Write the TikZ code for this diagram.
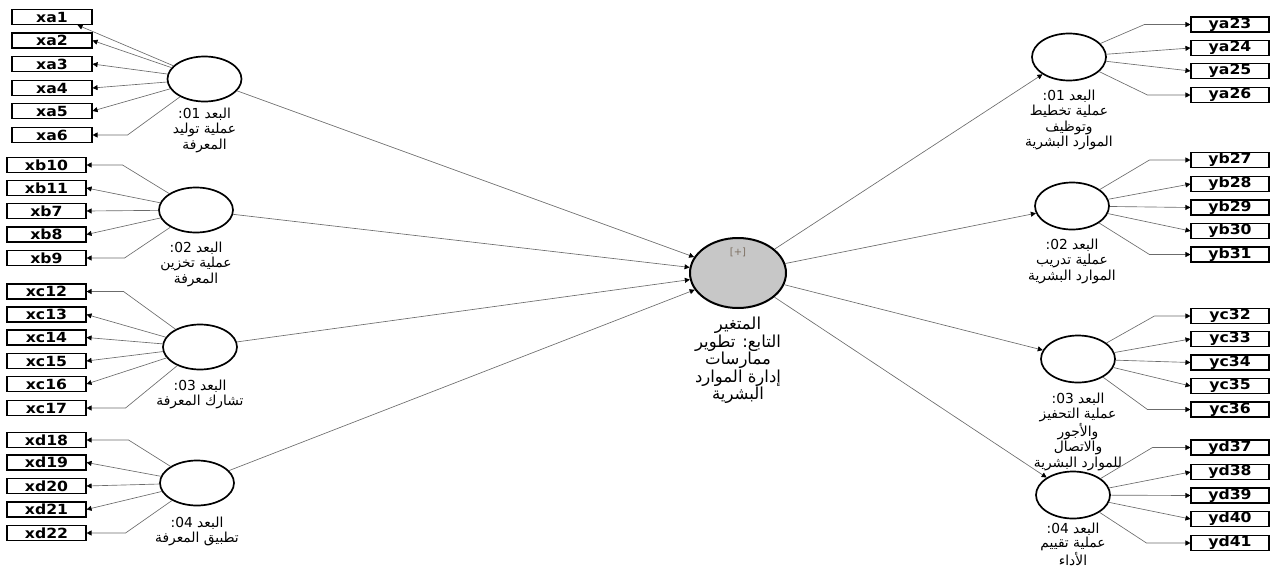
\documentclass[tikz,border=0pt]{standalone}
\usepackage{fontspec}
\setmainfont{DejaVu Sans}
\newfontfamily\arabicfont[Script=Arabic]{DejaVu Sans}
\newfontfamily\boxfont[FakeStretch=1.12]{DejaVu Sans}
\TeXXeTstate=1
\usetikzlibrary{arrows.meta, positioning, shapes.geometric}
\definecolor{plusgray}{RGB}{125,112,98}
\newcommand{\rl}[1]{\beginR #1\endR}
\tikzstyle{link} = [draw=black!58, line width=0.65pt, -{Triangle[length=5pt,width=5pt,color=black]}]
\tikzstyle{ind} = [draw, line width=1.1pt, minimum width=79pt, minimum height=15pt, inner sep=0pt, font=\boxfont\bfseries\fontsize{14}{14}\selectfont]
\tikzstyle{lv} = [ellipse, draw, line width=1.7pt, minimum width=74pt, minimum height=45pt, inner sep=0pt]
\tikzstyle{lbl} = [align=center, inner sep=0pt, font=\arabicfont\fontsize{13.8}{15.5}\selectfont]

\begin{document}
\begin{tikzpicture}[x=1pt, y=-1pt]
    \useasboundingbox (0,0) rectangle (1272,568);

    % indicators, left
    \foreach \n/\y in {xa1/17,xa2/40.5,xa3/64,xa4/88,xa5/111,xa6/135}
      \node[ind, minimum width=80pt] (\n) at (52,\y) {\n};
    \foreach \n/\y in {xb10/165,xb11/188,xb7/211,xb8/234.5,xb9/258}
      \node[ind] (\n) at (46.5,\y) {\n};
    \foreach \n/\y in {xc12/291.5,xc13/314.5,xc14/337.5,xc15/361,xc16/384,xc17/408}
      \node[ind] (\n) at (46.5,\y) {\n};
    \foreach \n/\y in {xd18/440,xd19/462.5,xd20/486,xd21/509.5,xd22/533}
      \node[ind] (\n) at (46.5,\y) {\n};

    % indicators, right
    \foreach \n/\y in {ya23/24.5,ya24/48,ya25/71,ya26/95}
      \node[ind, minimum width=78pt] (\n) at (1230,\y) {\n};
    \foreach \n/\y in {yb27/160,yb28/184,yb29/207.5,yb30/231,yb31/254.5}
      \node[ind, minimum width=78pt] (\n) at (1230,\y) {\n};
    \foreach \n/\y in {yc32/316,yc33/339,yc34/362.5,yc35/386,yc36/409.5}
      \node[ind, minimum width=78pt] (\n) at (1230,\y) {\n};
    \foreach \n/\y in {yd37/447.5,yd38/472,yd39/495.5,yd40/519,yd41/543}
      \node[ind, minimum width=78pt] (\n) at (1230,\y) {\n};

    % latent variables
    \node[lv] (ka) at (204.5,79) {};
    \node[lv] (kb) at (196,210) {};
    \node[lv] (kc) at (200,347) {};
    \node[lv] (kd) at (197,483) {};
    \node[lv, minimum height=47pt] (ra) at (1069,57) {};
    \node[lv, minimum height=47pt] (rb) at (1072,206) {};
    \node[lv, minimum height=47pt] (rc) at (1078,359) {};
    \node[lv, minimum height=47pt] (rd) at (1073,495) {};
    \node[lv, line width=2pt, fill=black!22, minimum width=96pt, minimum height=70pt] (dv) at (738,273) {};
    \node[font=\fontsize{10}{11}\selectfont, text=plusgray] (plus) at (738,252) {[+]};

    \node[lbl, below=5pt of ka] (la) {\rl{البعد 01:}\\\rl{عملية توليد}\\\rl{المعرفة}};
    \node[lbl, below=8pt of kb] (lb) {\rl{البعد 02:}\\\rl{عملية تخزين}\\\rl{المعرفة}};
    \node[lbl, below=9pt of kc] (lc) {\rl{البعد 03:}\\\rl{تشارك المعرفة}};
    \node[lbl, below=10pt of kd] (ld) {\rl{البعد 04:}\\\rl{تطبيق المعرفة}};
    \node[lbl, below=8pt of ra] (lra) {\rl{البعد 01:}\\\rl{عملية تخطيط}\\\rl{وتوظيف}\\\rl{الموارد البشرية}};
    \node[lbl, below=8pt of rb] (lrb) {\rl{البعد 02:}\\\rl{عملية تدريب}\\\rl{الموارد البشرية}};
    \node[lbl, below=9pt of rc] (lrc) {\rl{البعد 03:}\\\rl{عملية التحفيز}\\\rl{والأجور}\\\rl{والاتصال}\\\rl{للموارد البشرية}};
    \node[lbl, font=\arabicfont\fontsize{13.8}{14.5}\selectfont, below=3pt of rd] (lrd) {\rl{البعد 04:}\\\rl{عملية تقييم}\\\rl{الأداء}};
    \node[lbl, font=\arabicfont\fontsize{16.5}{17.5}\selectfont, below=8pt of dv] (ldv)
      {\rl{المتغير}\\\rl{التابع: تطوير}\\\rl{ممارسات}\\\rl{إدارة الموارد}\\\rl{البشرية}};

    % outer loadings, left
    \draw[link] (ka) -- ([xshift=-15pt]xa1.south east);
    \foreach \n in {xa2,xa3,xa4,xa5}
      \draw[link] (ka) -- (\n.east);
    \draw[link] (ka) -- ([xshift=35pt]xa6.east) -- (xa6.east);
    \draw[link] (kb) -- ([xshift=36pt]xb10.east) -- (xb10.east);
    \foreach \n in {xb11,xb7,xb8}
      \draw[link] (kb) -- (\n.east);
    \draw[link] (kb) -- ([xshift=38pt]xb9.east) -- (xb9.east);
    \draw[link] (kc) -- ([xshift=37pt]xc12.east) -- (xc12.east);
    \foreach \n in {xc13,xc14,xc15,xc16}
      \draw[link] (kc) -- (\n.east);
    \draw[link] (kc) -- ([xshift=39pt]xc17.east) -- (xc17.east);
    \draw[link] (kd) -- ([xshift=42pt]xd18.east) -- (xd18.east);
    \foreach \n in {xd19,xd20,xd21}
      \draw[link] (kd) -- (\n.east);
    \draw[link] (kd) -- ([xshift=39pt]xd22.east) -- (xd22.east);

    % outer loadings, right
    \draw[link] (ra) -- ([xshift=-46pt]ya23.west) -- (ya23.west);
    \foreach \n in {ya24,ya25}
      \draw[link] (ra) -- (\n.west);
    \draw[link] (ra) -- ([xshift=-43pt]ya26.west) -- (ya26.west);
    \draw[link] (rb) -- ([xshift=-41pt]yb27.west) -- (yb27.west);
    \foreach \n in {yb28,yb29,yb30}
      \draw[link] (rb) -- (\n.west);
    \draw[link] (rb) -- ([xshift=-41pt]yb31.west) -- (yb31.west);
    \draw[link] (rc) -- ([xshift=-36pt]yc32.west) -- (yc32.west);
    \foreach \n in {yc33,yc34,yc35}
      \draw[link] (rc) -- (\n.west);
    \draw[link] (rc) -- ([xshift=-43pt]yc36.west) -- (yc36.west);
    \draw[link] (rd) -- ([xshift=-38pt]yd37.west) -- (yd37.west);
    \foreach \n in {yd38,yd39,yd40}
      \draw[link] (rd) -- (\n.west);
    \draw[link] (rd) -- ([xshift=-44pt]yd41.west) -- (yd41.west);

    % inner model
    \foreach \k in {ka,kb,kc,kd}
      \draw[link] (\k) -- (dv);
    \foreach \k in {ra,rb,rc,rd}
      \draw[link] (dv) -- (\k);
\end{tikzpicture}
\end{document}
